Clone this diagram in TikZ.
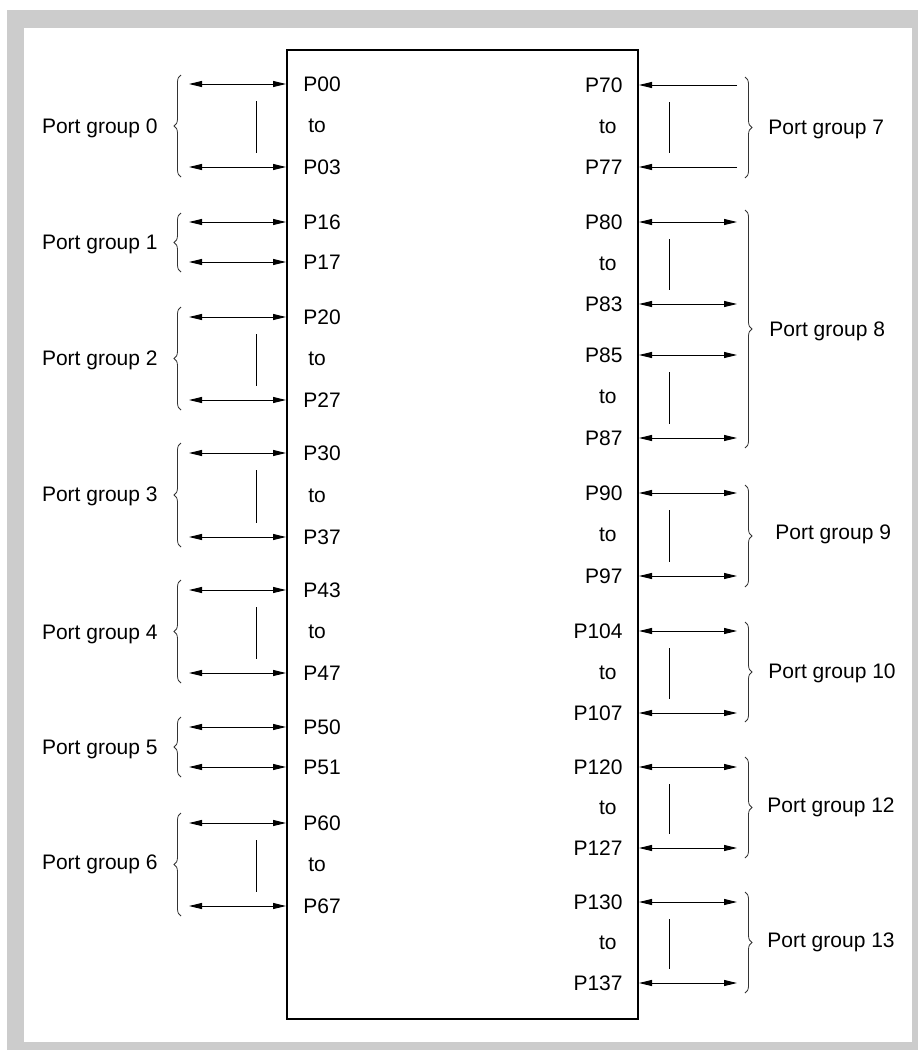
\documentclass[tikz,border=0pt]{standalone}
\usepackage{fontspec}
\setmainfont{Liberation Sans}
\usetikzlibrary{arrows.meta,decorations.pathreplacing}

\begin{document}
\begin{tikzpicture}[x=0.5pt,y=-0.5pt,
        font=\fontsize{10.5pt}{12pt}\selectfont]
        \tikzset{
            txt/.style={inner sep=0pt, text height=0.72em, text depth=0pt},
            chip/.style={draw, line width=1pt, minimum width=175.5pt, minimum height=484.5pt, inner sep=0pt},
            port/.style={line width=0.5pt, {Triangle[length=6.5pt,width=3pt]}-{Triangle[length=6.5pt,width=3pt]}},
            inport/.style={line width=0.5pt, -{Triangle[length=6.5pt,width=3pt]}},
            bar/.style={line width=0.5pt},
            groupbrace/.style={draw=black!80, line width=0.4pt, decorate, decoration={brace, amplitude=3.5pt}}
        }

        \useasboundingbox (0,0) rectangle (918,1050);
        \fill[white] (0,0) rectangle (918,1050);
        \fill[black!20] (7,10) rectangle (918,1050);
        \fill[white] (24,28) rectangle (912,1042);

        \node[chip] (ic) at (462.5,534.5) {};

        % left side pins
        \foreach \y/\p in {84/P00,167/P03,222/P16,262/P17,317/P20,400/P27,453/P30,537/P37,
                           590/P43,673/P47,727/P50,767/P51,823/P60,906/P67}{
            \node[txt, anchor=west] (\p) at (303,\y) {\p};
            \coordinate (\p-out) at (189,\y);
            \draw[port] (\p-out) -- (ic.west |- \p-out);
        }
        \foreach \g/\t/\b in {0/84/167,2/317/400,3/453/537,4/590/673,6/823/906}{
            \node[txt, anchor=west] (to\g) at (308,{(\t+\b)/2}) {to};
            \draw[bar] (256,\t+17) -- (256,\b-14);
        }
        \foreach \g/\t/\b/\m in {0/75/177/126,1/213/272/242,2/307/410/358,3/443/547/494,
                                 4/580/683/632,5/717/777/747,6/813/916/862}{
            \draw[groupbrace] (181,\b) -- (181,\t);
            \node[txt, anchor=east] (grp\g) at (158,\m) {Port group \g};
        }

        % right side pins
        \foreach \y/\p in {85/P70,167/P77}{
            \node[txt, anchor=east] (\p) at (623,\y) {\p};
            \coordinate (\p-out) at (737,\y);
            \draw[inport] (\p-out) -- (ic.east |- \p-out);
        }
        \foreach \y/\p in {222/P80,304/P83,355/P85,438/P87,493/P90,576/P97,631/P104,713/P107,
                           767/P120,848/P127,902/P130,983/P137}{
            \node[txt, anchor=east] (\p) at (623,\y) {\p};
            \coordinate (\p-out) at (737,\y);
            \draw[port] (ic.east |- \p-out) -- (\p-out);
        }
        \foreach \g/\t/\b in {7/85/167,8/222/304,8b/355/438,9/493/576,10/631/713,12/767/848,13/902/983}{
            \node[txt, anchor=east] (to\g) at (617,{(\t+\b)/2}) {to};
            \draw[bar] (669,\t+17) -- (669,\b-14);
        }
        \foreach \g/\t/\b/\m/\x in {7/77/178/127/768,8/210/448/329/769,9/485/587/532/775,
                                    10/622/722/671/768,12/757/858/805/767,13/892/993/940/767}{
            \draw[groupbrace] (745,\t) -- (745,\b);
            \node[txt, anchor=west] (grp\g) at (\x,\m) {Port group \g};
        }
\end{tikzpicture}
\end{document}
